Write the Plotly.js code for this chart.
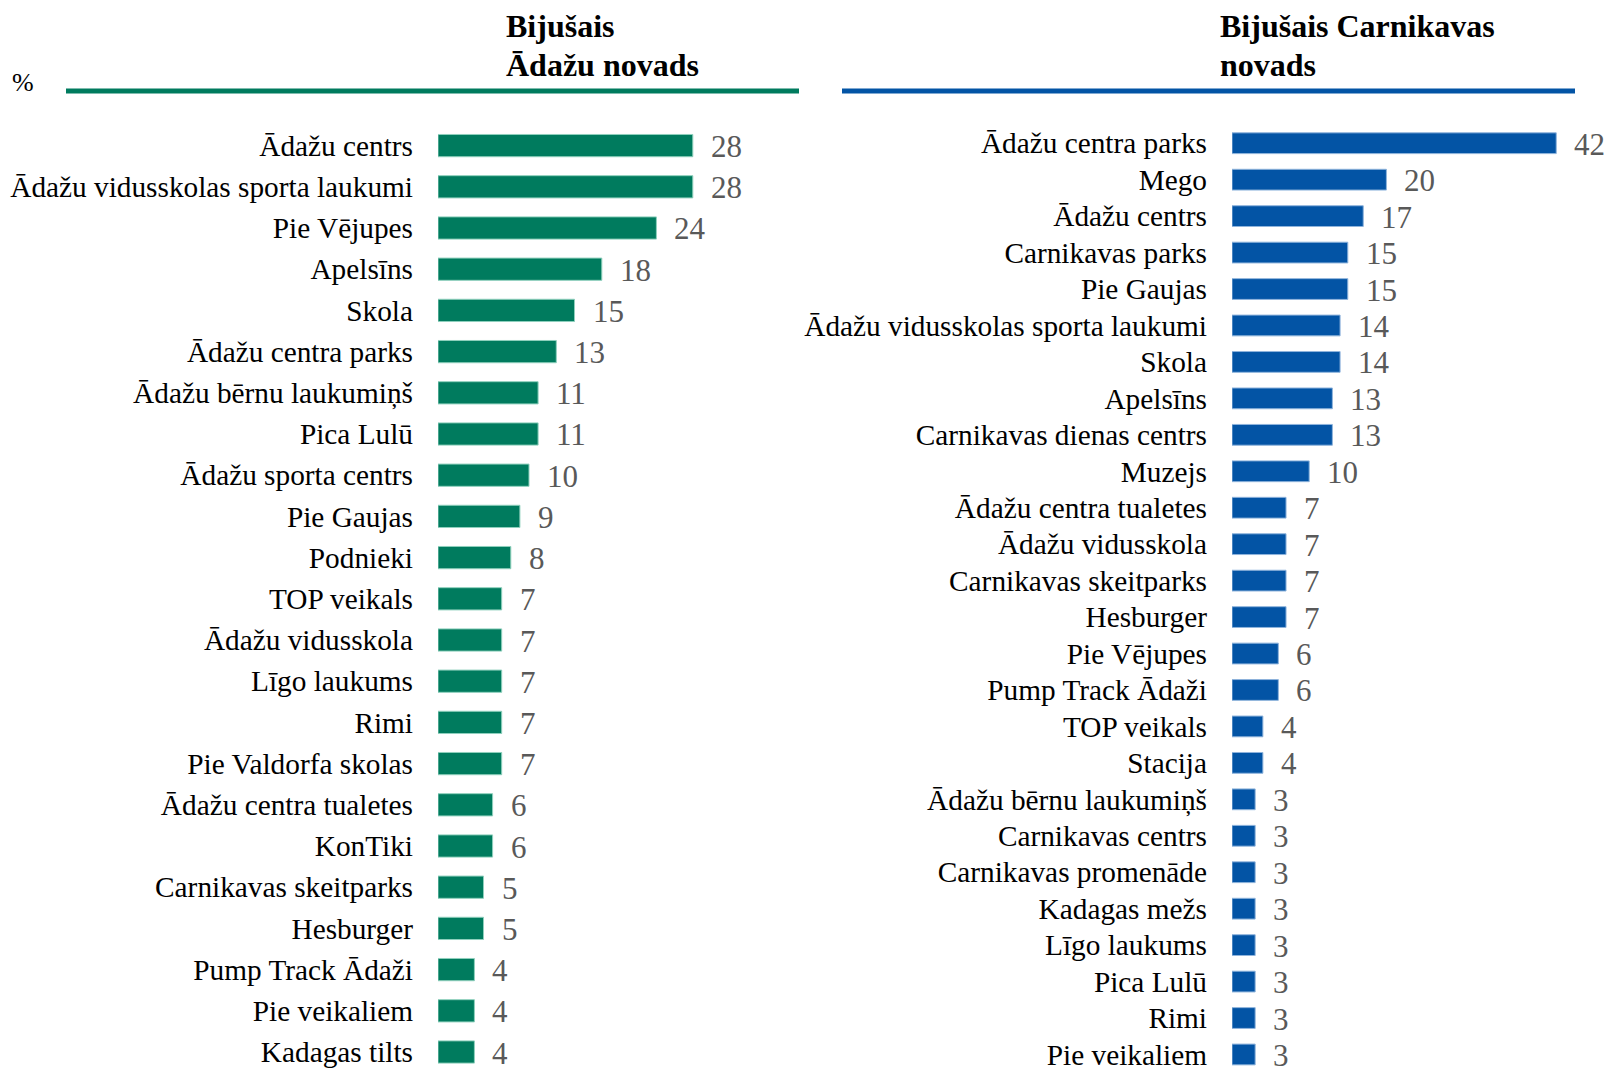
<!DOCTYPE html>
<html>
<head>
<meta charset="utf-8">
<script src="https://cdn.plot.ly/plotly-3.0.1.min.js"></script>
<style>html,body{margin:0;padding:0;background:#fff;}#chart{width:1608px;height:1070px;}</style>
</head>
<body>
<div id="chart"></div>
<script>
// ---- data ----
const adaziTitleLines = ["Bijušais", "Ādažu novads"];
const carnikavaTitleLines = ["Bijušais Carnikavas", "novads"];
const unitLabel = "%";

const adaziPlaces = [
  "Ādažu centrs", "Ādažu vidusskolas sporta laukumi", "Pie Vējupes", "Apelsīns", "Skola",
  "Ādažu centra parks", "Ādažu bērnu laukumiņš", "Pica Lulū", "Ādažu sporta centrs", "Pie Gaujas",
  "Podnieki", "TOP veikals", "Ādažu vidusskola", "Līgo laukums", "Rimi",
  "Pie Valdorfa skolas", "Ādažu centra tualetes", "KonTiki", "Carnikavas skeitparks", "Hesburger",
  "Pump Track Ādaži", "Pie veikaliem", "Kadagas tilts"
];
const adaziValues = [28, 28, 24, 18, 15, 13, 11, 11, 10, 9, 8, 7, 7, 7, 7, 7, 6, 6, 5, 5, 4, 4, 4];

const carnikavaPlaces = [
  "Ādažu centra parks", "Mego", "Ādažu centrs", "Carnikavas parks", "Pie Gaujas",
  "Ādažu vidusskolas sporta laukumi", "Skola", "Apelsīns", "Carnikavas dienas centrs", "Muzejs",
  "Ādažu centra tualetes", "Ādažu vidusskola", "Carnikavas skeitparks", "Hesburger", "Pie Vējupes",
  "Pump Track Ādaži", "TOP veikals", "Stacija", "Ādažu bērnu laukumiņš", "Carnikavas centrs",
  "Carnikavas promenāde", "Kadagas mežs", "Līgo laukums", "Pica Lulū", "Rimi", "Pie veikaliem"
];
const carnikavaValues = [42, 20, 17, 15, 15, 14, 14, 13, 13, 10, 7, 7, 7, 7, 6, 6, 4, 4, 3, 3, 3, 3, 3, 3, 3, 3];

// ---- style ----
const W = 1608, H = 1070;
const GREEN = "#007b5e", BLUE = "#0354a5";
const FONT = "Liberation Serif, Times New Roman, serif";
const px = v => v / W, py = v => 1 - v / H;

const traces = [
  {type: "bar", orientation: "h", x: adaziValues, y: adaziPlaces, xaxis: "x", yaxis: "y",
   width: 0.54, marker: {color: GREEN, line: {color: "#8fd0bd", width: 1}}, hoverinfo: "x+y"},
  {type: "bar", orientation: "h", x: carnikavaValues, y: carnikavaPlaces, xaxis: "x2", yaxis: "y2",
   width: 0.57, marker: {color: BLUE, line: {color: "#8fb4dc", width: 1}}, hoverinfo: "x+y"}
];

const numFont = {family: FONT, size: 31, color: "#595959"};
const annotations = [];
adaziValues.forEach((v, i) => annotations.push({
  x: v, y: adaziPlaces[i], xref: "x", yref: "y", text: String(v), showarrow: false,
  xanchor: "left", yanchor: "middle", xshift: 16, yshift: -1, font: numFont
}));
carnikavaValues.forEach((v, i) => annotations.push({
  x: v, y: carnikavaPlaces[i], xref: "x2", yref: "y2", text: String(v), showarrow: false,
  xanchor: "left", yanchor: "middle", xshift: 16, yshift: -1, font: numFont
}));
const titleFont = {family: FONT, size: 32, color: "#000"};
const titleY = [26, 65];
adaziTitleLines.forEach((t, i) => annotations.push({x: px(504), y: py(titleY[i]), xref: "paper", yref: "paper",
  text: "<b>" + t + "</b>", showarrow: false, xanchor: "left", yanchor: "middle", font: titleFont}));
carnikavaTitleLines.forEach((t, i) => annotations.push({x: px(1218), y: py(titleY[i]), xref: "paper", yref: "paper",
  text: "<b>" + t + "</b>", showarrow: false, xanchor: "left", yanchor: "middle", font: titleFont}));
annotations.push({x: px(23), y: py(82), xref: "paper", yref: "paper", text: unitLabel,
  showarrow: false, xanchor: "center", yanchor: "middle", font: {family: FONT, size: 26, color: "#000"}});

const yTop = 125, yBot = 1070;
const leftStep = 41.2, rightStep = 36.45;
const tickFont = {family: FONT, size: 29.3, color: "#000"};

const layout = {
  width: W, height: H, margin: {l: 0, r: 0, t: 0, b: 0}, paper_bgcolor: "#fff", plot_bgcolor: "#fff",
  showlegend: false, font: {family: FONT, color: "#000"},
  xaxis: {domain: [px(438), px(438 + 40 * 9.1)], range: [0, 40], showgrid: false, zeroline: false,
          showticklabels: false, showline: false, fixedrange: true},
  yaxis: {domain: [py(yBot), py(yTop)], range: [-0.5 + (yBot - yTop) / leftStep, -0.5], anchor: "x",
          showgrid: false, zeroline: false, showline: false, ticks: "", ticklabelstandoff: 24,
          tickfont: tickFont, fixedrange: true},
  xaxis2: {domain: [px(1232), px(1232 + 48 * 7.72)], range: [0, 48], showgrid: false, zeroline: false,
           showticklabels: false, showline: false, anchor: "y2", fixedrange: true},
  yaxis2: {domain: [py(yBot), py(yTop)], range: [-0.5 + (yBot - yTop) / rightStep, -0.5], anchor: "x2",
           showgrid: false, zeroline: false, showline: false, ticks: "", ticklabelstandoff: 24,
           tickfont: tickFont, fixedrange: true},
  shapes: [
    {type: "line", xref: "paper", yref: "paper", x0: px(66), x1: px(799), y0: py(91), y1: py(91),
     line: {color: GREEN, width: 5}},
    {type: "line", xref: "paper", yref: "paper", x0: px(842), x1: px(1575), y0: py(91), y1: py(91),
     line: {color: BLUE, width: 5}}
  ],
  annotations: annotations
};

Plotly.newPlot("chart", traces, layout, {displayModeBar: false, staticPlot: true});
</script>
</body>
</html>
